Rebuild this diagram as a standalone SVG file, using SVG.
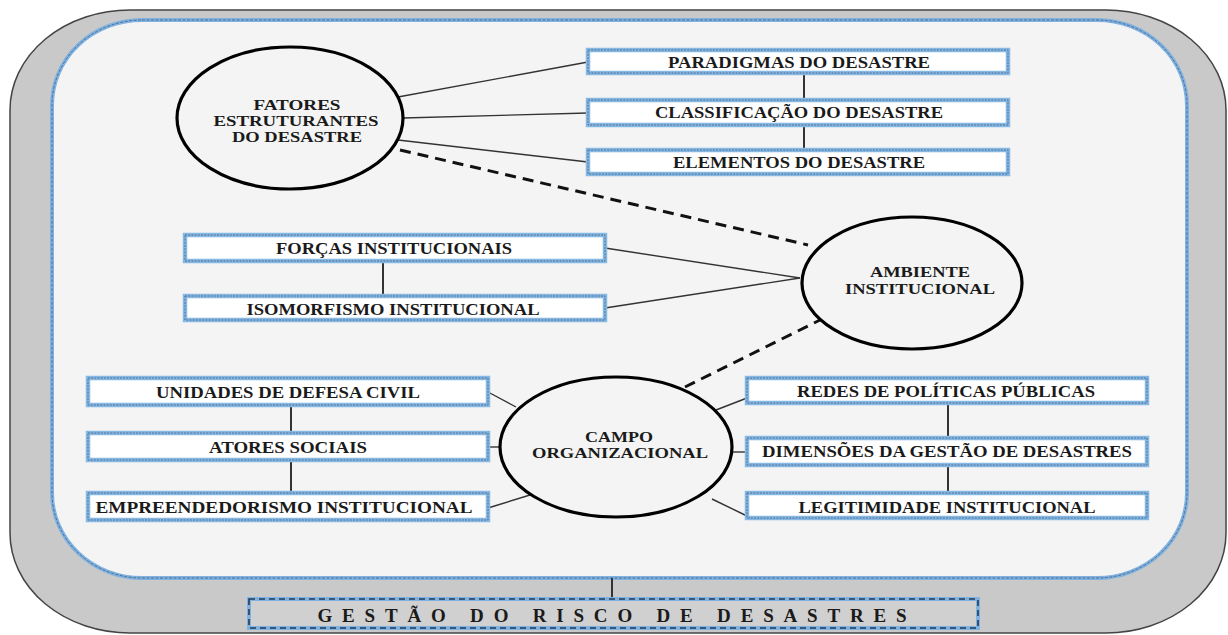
<svg xmlns="http://www.w3.org/2000/svg" width="1228" height="635" viewBox="0 0 1228 635">
<style>
.bx{fill:#fff;stroke:#86b8e4;stroke-width:4.5}
.bxd{fill:none;stroke:#4f6f94;stroke-width:1;stroke-dasharray:2 1.2}
.t{font-family:"Liberation Serif","Times New Roman",serif;font-weight:bold;font-size:16px;fill:#1a1a1a;text-anchor:middle}
.ct{font-family:"Liberation Serif","Times New Roman",serif;font-weight:bold;font-size:15px;fill:#1a1a1a;text-anchor:middle}
.el{fill:#f4f4f4;stroke:#000;stroke-width:3.2}
.ln{stroke:#333;stroke-width:1.4;fill:none}
.vl{stroke:#333;stroke-width:2;fill:none}
.ds{stroke:#111;stroke-width:3;stroke-dasharray:11 7;fill:none}
</style>
<g id="background">
<rect x="10" y="10" width="1216" height="623" rx="120" ry="100" fill="#c9c9c9" stroke="#444" stroke-width="1.5"/>
<rect x="52" y="20" width="1135" height="558" rx="90" ry="85" fill="#f4f4f4" stroke="#7fb2e0" stroke-width="4"/>
<rect x="52" y="20" width="1135" height="558" rx="90" ry="85" fill="none" stroke="#4f6f94" stroke-width="1" stroke-dasharray="3 1.5"/>
</g>
<g id="connectors">
<line class="ln" x1="398" y1="97" x2="588" y2="62"/>
<line class="ln" x1="403" y1="118" x2="588" y2="113"/>
<line class="ln" x1="398" y1="140" x2="588" y2="162"/>
<line class="vl" x1="804" y1="73" x2="804" y2="100"/>
<line class="vl" x1="804" y1="125" x2="804" y2="150"/>
<line class="ds" x1="400" y1="150" x2="808" y2="245"/>
<line class="ln" x1="605" y1="248" x2="800" y2="278"/>
<line class="ln" x1="605" y1="308" x2="800" y2="278"/>
<line class="vl" x1="383" y1="261" x2="383" y2="296"/>
<line class="ds" x1="685" y1="387" x2="820" y2="320"/>
<line class="vl" x1="291" y1="405" x2="291" y2="433"/>
<line class="vl" x1="291" y1="460" x2="291" y2="493"/>
<line class="ln" x1="488" y1="392" x2="516" y2="407"/>
<line class="ln" x1="488" y1="447" x2="500" y2="447"/>
<line class="ln" x1="488" y1="508" x2="530" y2="495"/>
<line class="vl" x1="948" y1="403" x2="948" y2="438"/>
<line class="vl" x1="948" y1="465" x2="948" y2="493"/>
<line class="ln" x1="747" y1="398" x2="716" y2="410"/>
<line class="ln" x1="747" y1="452" x2="732" y2="452"/>
<line class="ln" x1="747" y1="516" x2="712" y2="499"/>
<line class="vl" x1="612" y1="578" x2="612" y2="599"/>
</g>
<g id="fatores">
<ellipse class="el" cx="290" cy="118" rx="113" ry="71"/>
<text class="ct" x="297" y="110" textLength="87" lengthAdjust="spacingAndGlyphs">FATORES</text>
<text class="ct" x="296" y="126" textLength="165" lengthAdjust="spacingAndGlyphs">ESTRUTURANTES</text>
<text class="ct" x="297" y="142" textLength="130" lengthAdjust="spacingAndGlyphs">DO DESASTRE</text>
</g>
<g id="paradigmas">
<rect class="bx" x="588" y="50" width="420" height="23"/><rect class="bxd" x="588" y="50" width="420" height="23"/>
<text class="t" x="799" y="68" textLength="262" lengthAdjust="spacingAndGlyphs">PARADIGMAS DO DESASTRE</text>
</g>
<g id="classificacao">
<rect class="bx" x="588" y="100" width="420" height="25"/><rect class="bxd" x="588" y="100" width="420" height="25"/>
<text class="t" x="799" y="118" textLength="288" lengthAdjust="spacingAndGlyphs">CLASSIFICAÇÃO DO DESASTRE</text>
</g>
<g id="elementos">
<rect class="bx" x="588" y="150" width="420" height="24"/><rect class="bxd" x="588" y="150" width="420" height="24"/>
<text class="t" x="799" y="168" textLength="252" lengthAdjust="spacingAndGlyphs">ELEMENTOS DO DESASTRE</text>
</g>
<g id="forcas">
<rect class="bx" x="185" y="235" width="420" height="26"/><rect class="bxd" x="185" y="235" width="420" height="26"/>
<text class="t" x="394" y="254" textLength="236" lengthAdjust="spacingAndGlyphs">FORÇAS INSTITUCIONAIS</text>
</g>
<g id="isomorfismo">
<rect class="bx" x="185" y="296" width="420" height="24"/><rect class="bxd" x="185" y="296" width="420" height="24"/>
<text class="t" x="393" y="315" textLength="293" lengthAdjust="spacingAndGlyphs">ISOMORFISMO INSTITUCIONAL</text>
</g>
<g id="ambiente">
<ellipse class="el" cx="912" cy="283" rx="110" ry="66"/>
<text class="ct" x="920" y="277" textLength="100" lengthAdjust="spacingAndGlyphs">AMBIENTE</text>
<text class="ct" x="920" y="294" textLength="150" lengthAdjust="spacingAndGlyphs">INSTITUCIONAL</text>
</g>
<g id="campo">
<ellipse class="el" cx="616" cy="447" rx="116" ry="70"/>
<text class="ct" x="619" y="442" textLength="68" lengthAdjust="spacingAndGlyphs">CAMPO</text>
<text class="ct" x="620" y="458" textLength="176" lengthAdjust="spacingAndGlyphs">ORGANIZACIONAL</text>
</g>
<g id="unidades">
<rect class="bx" x="88" y="378" width="400" height="27"/><rect class="bxd" x="88" y="378" width="400" height="27"/>
<text class="t" x="288" y="398" textLength="264" lengthAdjust="spacingAndGlyphs">UNIDADES DE DEFESA CIVIL</text>
</g>
<g id="atores">
<rect class="bx" x="88" y="433" width="400" height="27"/><rect class="bxd" x="88" y="433" width="400" height="27"/>
<text class="t" x="288" y="453" textLength="158" lengthAdjust="spacingAndGlyphs">ATORES SOCIAIS</text>
</g>
<g id="empreendedorismo">
<rect class="bx" x="88" y="493" width="400" height="27"/><rect class="bxd" x="88" y="493" width="400" height="27"/>
<text class="t" x="284" y="513" textLength="377" lengthAdjust="spacingAndGlyphs">EMPREENDEDORISMO INSTITUCIONAL</text>
</g>
<g id="redes">
<rect class="bx" x="747" y="378" width="400" height="25"/><rect class="bxd" x="747" y="378" width="400" height="25"/>
<text class="t" x="946" y="397" textLength="298" lengthAdjust="spacingAndGlyphs">REDES DE POLÍTICAS PÚBLICAS</text>
</g>
<g id="dimensoes">
<rect class="bx" x="747" y="438" width="400" height="27"/><rect class="bxd" x="747" y="438" width="400" height="27"/>
<text class="t" x="947" y="457" textLength="370" lengthAdjust="spacingAndGlyphs">DIMENSÕES DA GESTÃO DE DESASTRES</text>
</g>
<g id="legitimidade">
<rect class="bx" x="747" y="493" width="400" height="25"/><rect class="bxd" x="747" y="493" width="400" height="25"/>
<text class="t" x="947" y="513" textLength="297" lengthAdjust="spacingAndGlyphs">LEGITIMIDADE INSTITUCIONAL</text>
</g>
<g id="gestao">
<rect x="249" y="599" width="729" height="29" fill="#d0d0d0" stroke="#7fb2e0" stroke-width="4"/>
<rect x="249" y="599" width="729" height="29" fill="none" stroke="#223a5a" stroke-width="1.6" stroke-dasharray="6 4"/>
<text x="612" y="622" textLength="589" lengthAdjust="spacing" font-family="'Liberation Serif','Times New Roman',serif" font-weight="bold" font-size="19" fill="#1a1a1a" text-anchor="middle">GESTÃO DO RISCO DE DESASTRES</text>
</g>
</svg>
